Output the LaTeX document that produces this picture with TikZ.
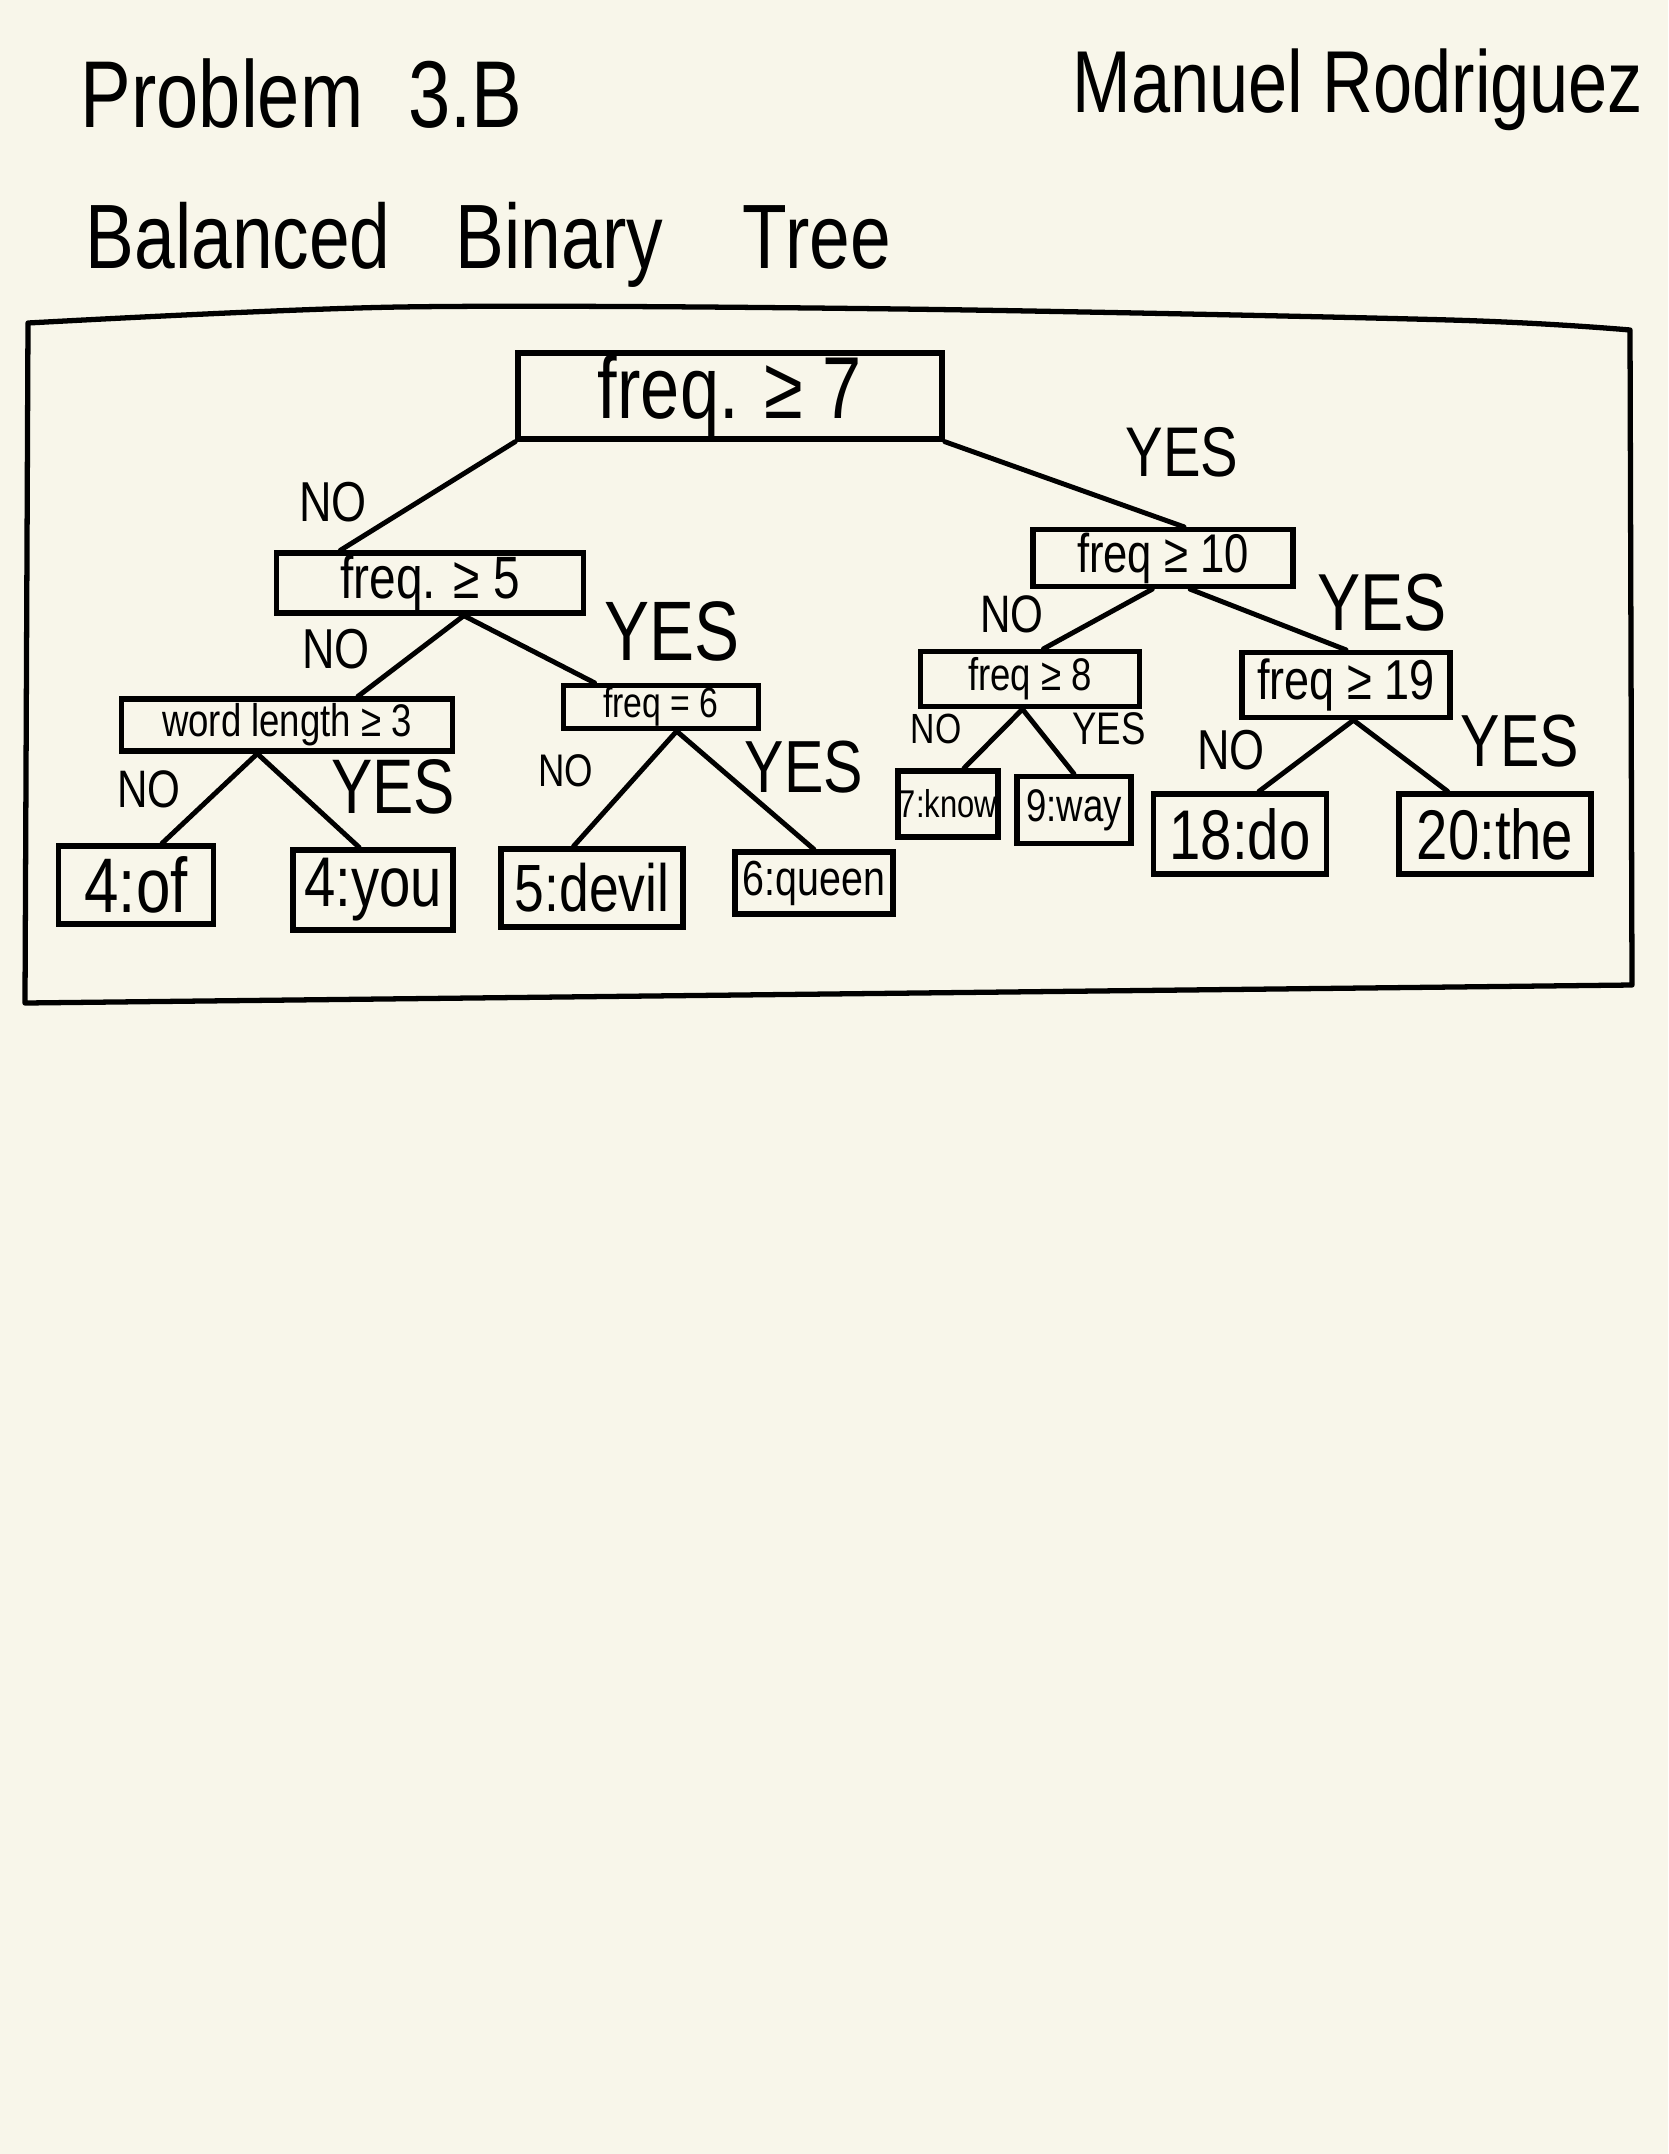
\documentclass[tikz,border=0pt]{standalone}
\usepackage{fontspec}
\setmainfont[FakeStretch=0.8]{Liberation Sans}
\definecolor{paper}{RGB}{248,246,234}
\newcommand{\txtsz}[1]{\fontsize{#1}{#1}\selectfont}
\tikzset{
  box/.style={draw, line width=1.5pt, inner sep=0pt},
  branch/.style={line width=1.4pt, line cap=round},
  lbl/.style={inner sep=0pt},
}
\begin{document}
\begin{tikzpicture}[x=0.01cm, y=-0.01cm]
    \fill[paper] (0,0) rectangle (1668,2154);
    % heading ==============================================
    \node[lbl, anchor=base west] (prob)  at (80,127)   {\txtsz{27}Problem\hspace{0.45cm}3.B};
    \node[lbl, anchor=base west] (title) at (85,268)   {\txtsz{26}Balanced\hspace{0.65cm}Binary\hspace{0.8cm}Tree};
    \node[lbl, anchor=base east] (name)  at (1644,112) {\txtsz{25}Manuel Rodriguez};
    % frame ================================================
    \draw[line width=1.5pt, line join=round] plot[smooth] coordinates {(28,323) (400,307) (900,309) (1450,320) (1630,330)}
        -- (1632,985) -- (25,1003) -- cycle;
    % tests ================================================
    \node[box, minimum width=4.24cm, minimum height=0.86cm] (root) at (730,396)  {\txtsz{25}freq. ≥ 7};
    \node[box, minimum width=3.07cm, minimum height=0.60cm] (f5)   at (430,583)  {\txtsz{17}freq. ≥ 5};
    \node[box, minimum width=2.60cm, minimum height=0.57cm] (f10)  at (1163,558) {\txtsz{15.5}freq ≥ 10};
    \node[box, minimum width=3.31cm, minimum height=0.52cm] (wl)   at (287,725)  {\txtsz{13}word length ≥ 3};
    \node[box, minimum width=1.95cm, minimum height=0.43cm] (f6)   at (661,707)  {\txtsz{12}freq = 6};
    \node[box, minimum width=2.19cm, minimum height=0.55cm] (f8)   at (1030,679) {\txtsz{13}freq ≥ 8};
    \node[box, minimum width=2.08cm, minimum height=0.65cm] (f19)  at (1346,685) {\txtsz{16}freq ≥ 19};
    % leaves ===============================================
    \node[box, minimum width=1.55cm, minimum height=0.78cm] (of)    at (136,885)  {\txtsz{22}4:of};
    \node[box, minimum width=1.60cm, minimum height=0.80cm] (you)   at (373,890)  {\txtsz{20}4:you};
    \node[box, minimum width=1.82cm, minimum height=0.78cm] (devil) at (592,888)  {\txtsz{19}5:devil};
    \node[box, minimum width=1.58cm, minimum height=0.62cm] (queen) at (814,883)  {\txtsz{14}6:queen};
    \node[box, minimum width=1.00cm, minimum height=0.66cm] (know)  at (948,804)  {\txtsz{11}7:know};
    \node[box, minimum width=1.14cm, minimum height=0.67cm] (way)   at (1074,810) {\txtsz{13}9:way};
    \node[box, minimum width=1.73cm, minimum height=0.80cm] (do)    at (1240,834) {\txtsz{20}18:do};
    \node[box, minimum width=1.92cm, minimum height=0.80cm] (the)   at (1495,834) {\txtsz{20}20:the};
    % branches =============================================
    \draw[branch] (root.south west) -- (f5.160);
    \draw[branch] (root.south east) -- (f10.56);
    \draw[branch] (f5.316) -- (wl.22);
    \draw[branch] (f5.316) -- (f6.160);
    \draw[branch] (f10.251) -- (f8.66);
    \draw[branch] (f10.311) -- (f19.north);
    \draw[branch] (wl.224) -- (of.58);
    \draw[branch] (wl.224) -- (you.108);
    \draw[branch] (f6.303) -- (devil.114);
    \draw[branch] (f6.303) -- (queen.north);
    \draw[branch] (f8.256) -- (know.66);
    \draw[branch] (f8.256) -- (way.north);
    \draw[branch] (f19.282) -- (do.66);
    \draw[branch] (f19.282) -- (the.138);
    % answers ==============================================
    \node[lbl] (noRoot)   at (333,502)  {\txtsz{16}NO};
    \node[lbl] (yesRoot)  at (1182,452) {\txtsz{20}YES};
    \node[lbl] (noF5)     at (336,649)  {\txtsz{16}NO};
    \node[lbl] (yesF5)    at (672,631)  {\txtsz{24}YES};
    \node[lbl] (noF10)    at (1012,614) {\txtsz{15}NO};
    \node[lbl] (yesF10)   at (1382,603) {\txtsz{23}YES};
    \node[lbl] (noWl)     at (149,789)  {\txtsz{15}NO};
    \node[lbl] (yesWl)    at (393,787)  {\txtsz{22}YES};
    \node[lbl] (noF6)     at (566,771)  {\txtsz{13}NO};
    \node[lbl] (yesF6)    at (804,767)  {\txtsz{21}YES};
    \node[lbl] (noF8)     at (936,729)  {\txtsz{12}NO};
    \node[lbl] (yesF8)    at (1109,729) {\txtsz{13}YES};
    \node[lbl] (noF19)    at (1231,750) {\txtsz{16}NO};
    \node[lbl] (yesF19)   at (1520,741) {\txtsz{21}YES};
\end{tikzpicture}
\end{document}
